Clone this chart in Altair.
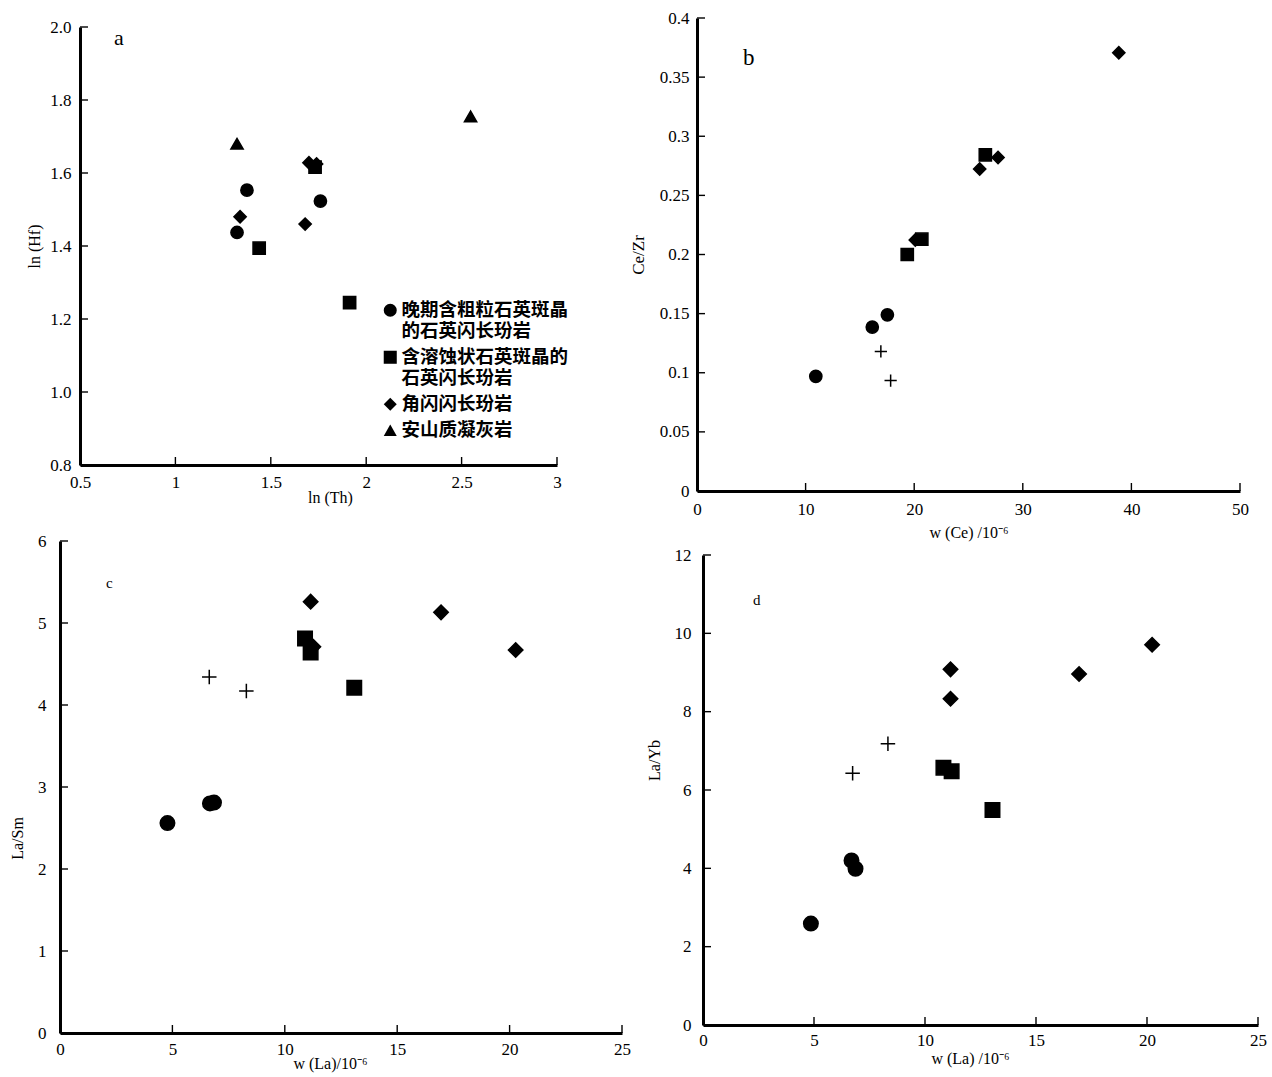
import altair as alt
import pandas as pd

C1 = "晚期含粗粒石英斑晶|的石英闪长玢岩"
C2 = "含溶蚀状石英斑晶的|石英闪长玢岩"
C3 = "角闪闪长玢岩"
C4 = "安山质凝灰岩"
C5 = "其他样品"
CATS = [C1, C2, C3, C4, C5]
SHAPES = ["circle", "square", "diamond", "triangle-up", "M-1,0H1M0,-1V1"]

# panel a: ln(Th) vs ln(Hf)
a_x = [1.323, 1.375, 1.76, 1.439, 1.913, 1.732, 1.339, 1.68, 1.70, 1.74, 1.323, 2.547]
a_y = [1.437, 1.553, 1.523, 1.394, 1.245, 1.616, 1.48, 1.46, 1.628, 1.625, 1.68, 1.755]
a_g = [C1] * 3 + [C2] * 3 + [C3] * 4 + [C4] * 2

# panel b: w(Ce) vs Ce/Zr
b_x = [10.94, 16.14, 17.53, 16.93, 17.83, 19.36, 20.7, 26.55, 20.1, 26.03, 27.72, 38.84]
b_y = [0.097, 0.1386, 0.149, 0.118, 0.0934, 0.2, 0.2129, 0.2843, 0.2123, 0.2723, 0.282, 0.3706]
b_g = [C1] * 3 + [C5] * 2 + [C2] * 3 + [C3] * 4

# panel c: w(La) vs La/Sm
c_x = [4.78, 6.67, 6.85, 6.64, 8.29, 11.27, 10.9, 11.15, 13.09, 11.15, 16.95, 20.27]
c_y = [2.56, 2.80, 2.81, 4.34, 4.17, 4.71, 4.81, 4.64, 4.21, 5.26, 5.13, 4.67]
c_g = [C1] * 3 + [C5] * 2 + [C3] + [C2] * 3 + [C3] * 3

# panel d: w(La) vs La/Yb
d_x = [4.86, 6.69, 6.87, 6.74, 8.33, 10.83, 11.2, 13.04, 11.15, 11.15, 16.94, 20.23]
d_y = [2.59, 4.2, 3.99, 6.43, 7.18, 6.57, 6.48, 5.49, 9.08, 8.33, 8.96, 9.71]
d_g = [C1] * 3 + [C5] * 2 + [C2] * 3 + [C3] * 4

a_xticks = [0.5, 1, 1.5, 2, 2.5, 3]
a_yticks = [0.8, 1.0, 1.2, 1.4, 1.6, 1.8, 2.0]
b_xticks = [0, 10, 20, 30, 40, 50]
b_yticks = [0, 0.05, 0.1, 0.15, 0.2, 0.25, 0.3, 0.35, 0.4]
c_xticks = [0, 5, 10, 15, 20, 25]
c_yticks = [0, 1, 2, 3, 4, 5, 6]
d_xticks = [0, 5, 10, 15, 20, 25]
d_yticks = [0, 2, 4, 6, 8, 10, 12]

SERIF = "Liberation Serif"
TICK_LEN = 8


def axis(values, fmt, title, lpad, tpad, **extra):
    kw = dict(values=values, format=fmt, title=title, labelPadding=lpad, titlePadding=tpad)
    kw.update(extra)
    return alt.Axis(**kw)


def box_layer(w, h, ext):
    """Invisible rule fixing the layout box: ext = (left, top, right, bottom)."""
    return alt.Chart(pd.DataFrame({"k": [0]})).mark_rule(opacity=0).encode(
        x=alt.value(-ext[0]), y=alt.value(-ext[1]),
        x2=alt.value(w + ext[2]), y2=alt.value(h + ext[3]),
    )


def panel(xs, ys, gs, xdom, ydom, xticks, yticks, w, h, xaxis, yaxis, letter, lx, ly,
          lsize, msize, ext, legend=None):
    df = pd.DataFrame({"x": xs, "y": ys, "g": gs})
    xsc = alt.Scale(domain=xdom, nice=False, zero=False)
    ysc = alt.Scale(domain=ydom, nice=False, zero=False)
    pts = alt.Chart(df).mark_point(
        filled=True, color="black", stroke="black", strokeWidth=1.5, opacity=1, size=msize
    ).encode(
        x=alt.X("x:Q", scale=xsc, axis=xaxis),
        y=alt.Y("y:Q", scale=ysc, axis=yaxis),
        shape=alt.Shape("g:N", scale=alt.Scale(domain=CATS, range=SHAPES), legend=legend),
    )
    # inward-pointing tick marks, as in the original figure
    xt = alt.Chart(pd.DataFrame({"x": xticks})).mark_rule(color="black", strokeWidth=1.4).encode(
        x=alt.X("x:Q", scale=xsc, axis=xaxis), y=alt.value(h), y2=alt.value(h - TICK_LEN)
    )
    yt = alt.Chart(pd.DataFrame({"y": yticks})).mark_rule(color="black", strokeWidth=1.4).encode(
        y=alt.Y("y:Q", scale=ysc, axis=yaxis), x=alt.value(0), x2=alt.value(TICK_LEN)
    )
    lab = alt.Chart(pd.DataFrame({"t": [letter]})).mark_text(
        font=SERIF, fontSize=lsize, align="left", baseline="middle", color="black"
    ).encode(x=alt.value(lx), y=alt.value(ly), text="t:N")
    return alt.layer(xt, yt, pts, lab, box_layer(w, h, ext)).properties(width=w, height=h)


def spacer():
    return box_layer(1, 1, (0, 0, 0, 0)).properties(width=1, height=1)


legend_a = alt.Legend(
    title=None, orient="none", legendX=301, legendY=274, values=CATS[:4],
    labelExpr="split(datum.label, '|')", labelFont="Noto Sans CJK SC", labelFontSize=18.5,
    labelFontWeight="bold", labelColor="black", labelLimit=400, labelOffset=2,
    labelBaseline="middle", symbolFillColor="black", symbolStrokeColor="black",
    symbolStrokeWidth=0, symbolSize=170, rowPadding=7, padding=0,
)

pa = panel(
    a_x, a_y, a_g, [0.5, 3], [0.8, 2.0], a_xticks, a_yticks, 477, 438,
    axis(a_xticks, "~r", "ln (Th)", 4, -1, titleX=250),
    axis(a_yticks, ".1f", "ln (Hf)", 4, 7),
    "a", 34, 11, 22, 150, (80, 27, 20, 60), legend=legend_a,
)
pb = panel(
    b_x, b_y, b_g, [0, 50], [0, 0.4], b_xticks, b_yticks, 543, 473,
    axis(b_xticks, "~r", "w (Ce) /10⁻⁶", 5, 7),
    axis(b_yticks, "~r", "Ce/Zr", 3, 12, titleFontSize=17),
    "b", 46, 40, 23, 150, (80, 18, 10, 60),
)
pc = panel(
    c_x, c_y, c_g, [0, 25], [0, 6], c_xticks, c_yticks, 562, 492,
    axis(c_xticks, "~r", "w (La)/10⁻⁶", 3, -2, titleX=270),
    axis(c_yticks, "~r", "La/Sm", 9, 12, titleY=297),
    "c", 46, 42, 15, 210, (60, 21, 15, 40),
)
pd_ = panel(
    d_x, d_y, d_g, [0, 25], [0, 12], d_xticks, d_yticks, 555, 470,
    axis(d_xticks, "~r", "w (La) /10⁻⁶", 2, 2, titleX=267),
    axis(d_yticks, "~r", "La/Yb", 7, 12, titleY=205),
    "d", 50, 45, 15, 210, (106, 44, 10, 45),
)

chart = alt.concat(
    spacer(), spacer(), spacer(),
    spacer(), pa, pb,
    spacer(), pc, pd_,
    columns=3, align="none", bounds="full", spacing=-40,
).resolve_scale(shape="independent").resolve_legend(shape="independent").properties(
    padding={"left": 0, "top": 0, "right": 4, "bottom": 4}
).configure_view(stroke=None).configure_axis(
    domainColor="black", domainWidth=3, tickColor="black", tickOpacity=0, tickSize=5,
    labelFont=SERIF, labelFontSize=17, labelColor="black", labelFlush=False,
    titleFont=SERIF, titleFontSize=16, titleFontWeight="normal", titleColor="black",
    grid=False,
)

chart.save("out.html", embed_options={"renderer": "svg", "actions": False})
